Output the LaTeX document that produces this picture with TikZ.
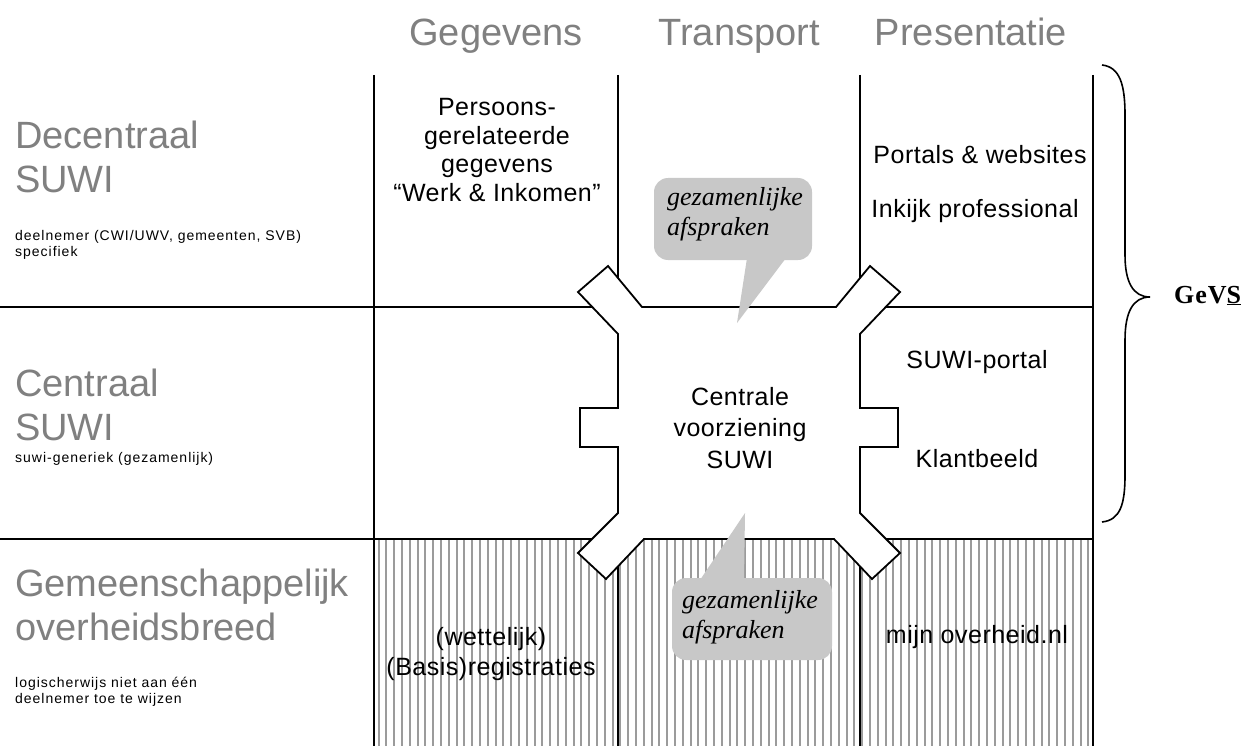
\documentclass[tikz,border=0pt]{standalone}
\usepackage{fontspec}
\setmainfont{Liberation Sans}
\newfontfamily\bubblefont{Liberation Serif}
\newfontfamily\smallfont[LetterSpace=7]{Liberation Sans}
\newfontfamily\cellfont[LetterSpace=2]{Liberation Sans}
\definecolor{hdrgray}{RGB}{128,128,128}
\definecolor{bubblegray}{RGB}{200,200,200}
\definecolor{hatchgray}{RGB}{155,155,155}
\begin{document}
\begin{tikzpicture}[x=1pt,y=-1pt,
  gridline/.style={line width=1.8pt,black},
  hatchline/.style={line width=2pt,hatchgray},
  header/.style={inner sep=0pt,anchor=base,text=hdrgray,font=\fontsize{38}{44}\selectfont},
  rowlabel/.style={inner sep=0pt,anchor=west,align=left,text=hdrgray,font=\fontsize{38}{44}\selectfont},
  smalltext/.style={inner sep=0pt,anchor=west,align=left,font=\smallfont\fontsize{14}{15.5}\selectfont},
  celltext/.style={inner sep=0pt,align=center,font=\cellfont\fontsize{25}{28.5}\selectfont},
  bubbletext/.style={inner sep=0pt,align=left,font=\bubblefont\itshape\fontsize{26}{30}\selectfont},
  bubble/.style={fill=bubblegray},
  centralshape/.style={fill=white,draw=black,line width=1.8pt,line join=miter}]
\useasboundingbox (0,0) rectangle (1249,746);
% hatching of bottom row
\foreach \x in {378.5,386.3,...,1090} {\draw[hatchline] (\x,540) -- (\x,746);}
% grid
\coordinate (c1t) at (374,75); \coordinate (c1b) at (374,746);
\coordinate (c2t) at (618,75); \coordinate (c2b) at (618,746);
\coordinate (c3t) at (860,75); \coordinate (c3b) at (860,746);
\coordinate (c4t) at (1093,75); \coordinate (c4b) at (1093,746);
\coordinate (r1l) at (0,307); \coordinate (r1r) at (1093,307);
\coordinate (r2l) at (0,539); \coordinate (r2r) at (1093,539);
\draw[gridline] (c1t) -- (c1b);
\draw[gridline] (c2t) -- (c2b);
\draw[gridline] (c3t) -- (c3b);
\draw[gridline] (c4t) -- (c4b);
\draw[gridline] (r1l) -- (r1r);
\draw[gridline] (r2l) -- (r2r);
% central shape
\draw[centralshape] (642,307) -- (836,307) -- (870,266) -- (900,292) -- (860,334)
  -- (860,408) -- (898,408) -- (898,447) -- (860,447) -- (860,513)
  -- (900,553) -- (872,579) -- (834,539) -- (644,539) -- (606,579)
  -- (578,553) -- (618,513) -- (618,447) -- (580,447) -- (580,408)
  -- (618,408) -- (618,334) -- (578,292) -- (608,266) -- cycle;
% bubbles
\fill[bubble,rounded corners=14pt] (654,178) rectangle (812,260);
\fill[bubble] (747,258) -- (737,323) -- (786,258) -- cycle;
\fill[bubble,rounded corners=14pt] (672,578) rectangle (832,660);
\fill[bubble] (700,580) -- (745,513) -- (744,580) -- cycle;
\node[bubbletext] (b1) at (735,214) {gezamenlijke\\afspraken};
\node[bubbletext] (b2) at (750,617) {gezamenlijke\\afspraken};
% headers
\node[header] (h1) at (496,46) {Gegevens};
\node[header] (h2) at (739,46) {Transport};
\node[header] (h3) at (971,46) {Presentatie};
% row labels
\node[rowlabel] (l1) at (15,157) {Decentraal\\SUWI};
\node[smalltext] (s1) at (15,245) {deelnemer (CWI/UWV, gemeenten, SVB)\\specifiek};
\node[rowlabel] (l2) at (15,405) {Centraal\\SUWI};
\node[smalltext] (s2) at (15,459) {suwi-generiek (gezamenlijk)};
\node[rowlabel] (l3) at (15,605) {Gemeenschappelijk\\overheidsbreed};
\node[smalltext] (s3) at (15,692) {logischerwijs niet aan één\\deelnemer toe te wijzen};
% cells
\node[celltext] (g1) at (497,150) {Persoons-\\gerelateerde\\gegevens\\“Werk \& Inkomen”};
\node[celltext] (p1) at (980,155) {Portals \& websites};
\node[celltext] (p2) at (975,211) {Inkijk professional};
\node[celltext] (p3) at (977,362) {SUWI-portal};
\node[celltext] (p4) at (977,459) {Klantbeeld};
\node[celltext,font=\cellfont\fontsize{25}{31.5}\selectfont] (cv) at (740,428) {Centrale\\voorziening\\SUWI};
\node[celltext,font=\cellfont\fontsize{25}{30}\selectfont] (br) at (491,654) {(wettelijk)\\(Basis)registraties};
\node[celltext] (p5) at (977,637) {mijn overheid.nl};
% brace
\draw[line width=1.6pt] (1102,65) .. controls (1120,67) and (1125,85) .. (1125,115)
  -- (1125,255) .. controls (1125,282) and (1133,297) .. (1150,297)
  .. controls (1133,297) and (1125,312) .. (1125,340)
  -- (1125,475) .. controls (1125,505) and (1120,520) .. (1102,522);
\node[inner sep=0pt,anchor=base west,font=\bubblefont\bfseries\fontsize{26}{30}\selectfont] (gevs) at (1174,303) {G\kern1pt e\kern1pt V\underline{S}};
\end{tikzpicture}
\end{document}
